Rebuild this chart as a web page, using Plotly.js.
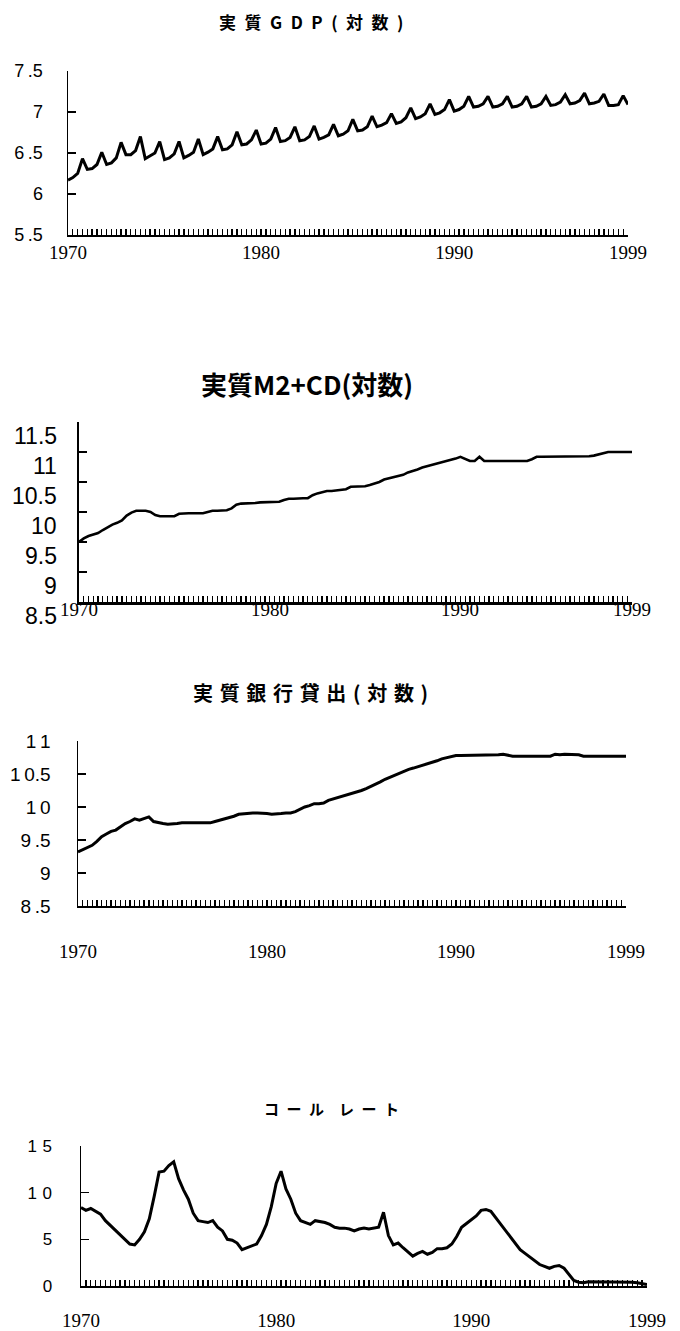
<!DOCTYPE html>
<html>
<head>
<meta charset="utf-8">
<script src="https://cdn.plot.ly/plotly-3.0.1.min.js"></script>
<style>
  html, body { margin: 0; padding: 0; background: #ffffff; }
  #chart { width: 680px; height: 1331px; }
</style>
</head>
<body>
<div id="chart"></div>
<script>
// Quarterly observations, 1970 Q1 through 1999 Q1
const years = [1970,1971,1972,1973,1974,1975,1976,1977,1978,1979,1980,1981,1982,1983,1984,
               1985,1986,1987,1988,1989,1990,1991,1992,1993,1994,1995,1996,1997,1998,1999];
const quarterOffsets = [0, 0.25, 0.5, 0.75];

// 実質GDP(対数)
const gdp = [
  6.17, 6.20, 6.25, 6.43,
  6.30, 6.31, 6.36, 6.51,
  6.36, 6.38, 6.44, 6.63,
  6.48, 6.48, 6.53, 6.70,
  6.43, 6.46, 6.50, 6.64,
  6.42, 6.44, 6.49, 6.64,
  6.44, 6.47, 6.51, 6.67,
  6.48, 6.51, 6.55, 6.70,
  6.54, 6.55, 6.60, 6.76,
  6.60, 6.61, 6.66, 6.78,
  6.61, 6.62, 6.67, 6.81,
  6.64, 6.65, 6.69, 6.82,
  6.65, 6.66, 6.70, 6.83,
  6.67, 6.69, 6.72, 6.85,
  6.71, 6.73, 6.77, 6.91,
  6.77, 6.78, 6.82, 6.95,
  6.82, 6.84, 6.87, 6.98,
  6.86, 6.88, 6.93, 7.05,
  6.92, 6.94, 6.98, 7.10,
  6.97, 6.99, 7.03, 7.15,
  7.01, 7.03, 7.07, 7.19,
  7.06, 7.07, 7.10, 7.19,
  7.06, 7.07, 7.10, 7.19,
  7.06, 7.07, 7.10, 7.19,
  7.06, 7.07, 7.10, 7.19,
  7.08, 7.09, 7.12, 7.21,
  7.10, 7.11, 7.14, 7.23,
  7.10, 7.11, 7.13, 7.22,
  7.08, 7.08, 7.09, 7.20,
  7.09
];

// 実質M2+CD(対数)
const m2cd = [
  9.50, 9.56, 9.60, 9.63,
  9.65, 9.70, 9.75, 9.79,
  9.82, 9.86, 9.94, 9.99,
  10.02, 10.02, 10.02, 10.00,
  9.95, 9.93, 9.93, 9.93,
  9.93, 9.97, 9.98, 9.98,
  9.98, 9.98, 9.98, 10.00,
  10.02, 10.02, 10.03, 10.03,
  10.06, 10.12, 10.14, 10.14,
  10.15, 10.15, 10.16, 10.16,
  10.16, 10.17, 10.17, 10.20,
  10.22, 10.22, 10.23, 10.23,
  10.23, 10.28, 10.31, 10.33,
  10.35, 10.35, 10.36, 10.36,
  10.38, 10.42, 10.42, 10.43,
  10.43, 10.45, 10.47, 10.50,
  10.54, 10.56, 10.58, 10.61,
  10.62, 10.66, 10.68, 10.71,
  10.74, 10.76, 10.79, 10.81,
  10.83, 10.85, 10.87, 10.89,
  10.92, 10.88, 10.85, 10.85,
  10.92, 10.85, 10.85, 10.85,
  10.85, 10.85, 10.85, 10.85,
  10.85, 10.85, 10.85, 10.88,
  10.92, 10.92, 10.92, 10.92,
  10.92, 10.92, 10.93, 10.93,
  10.93, 10.93, 10.93, 10.93,
  10.94, 10.96, 10.98, 11.00,
  11.00, 11.00, 11.00, 11.00,
  11.00
];

// 実質銀行貸出(対数)
const loans = [
  9.32, 9.35, 9.38, 9.42,
  9.48, 9.55, 9.59, 9.63,
  9.65, 9.70, 9.75, 9.78,
  9.82, 9.80, 9.83, 9.85,
  9.78, 9.76, 9.75, 9.74,
  9.74, 9.75, 9.76, 9.76,
  9.76, 9.76, 9.76, 9.76,
  9.76, 9.78, 9.80, 9.82,
  9.83, 9.86, 9.89, 9.90,
  9.91, 9.91, 9.91, 9.91,
  9.90, 9.89, 9.89, 9.90,
  9.91, 9.91, 9.93, 9.97,
  10.00, 10.02, 10.05, 10.05,
  10.06, 10.10, 10.12, 10.14,
  10.16, 10.18, 10.20, 10.22,
  10.25, 10.28, 10.31, 10.35,
  10.38, 10.42, 10.45, 10.49,
  10.51, 10.54, 10.57, 10.59,
  10.61, 10.63, 10.65, 10.67,
  10.70, 10.73, 10.75, 10.77,
  10.78, 10.78, 10.78, 10.78,
  10.78, 10.78, 10.78, 10.78,
  10.78, 10.79, 10.80, 10.78,
  10.77, 10.77, 10.77, 10.77,
  10.77, 10.77, 10.77, 10.77,
  10.77, 10.80, 10.79, 10.80,
  10.80, 10.80, 10.79, 10.77,
  10.77, 10.77, 10.77, 10.77,
  10.77, 10.77, 10.77, 10.77,
  10.77
];

// コールレート(%)
const callRate = [
  8.4, 8.1, 8.3, 8.0,
  7.7, 7.0, 6.5, 6.0,
  5.6, 5.1, 4.5, 4.4,
  5.0, 5.8, 7.2, 9.6,
  12.2, 12.3, 12.9, 13.3,
  11.5, 10.3, 9.3, 7.8,
  7.0, 6.9, 6.8, 7.0,
  6.3, 5.9, 5.0, 4.9,
  4.6, 3.9, 4.1, 4.3,
  4.5, 5.4, 6.6, 8.5,
  11.0, 12.3, 10.4, 9.3,
  7.8, 7.0, 6.8, 6.6,
  7.0, 6.9, 6.8, 6.6,
  6.3, 6.2, 6.2, 6.1,
  5.9, 6.1, 6.2, 6.1,
  6.2, 6.3, 7.9, 5.4,
  4.4, 4.6, 4.1, 3.7,
  3.2, 3.5, 3.7, 3.4,
  3.6, 4.0, 4.0, 4.1,
  4.5, 5.3, 6.3, 6.7,
  7.1, 7.5, 8.1, 8.2,
  8.0, 7.3, 6.7, 6.0,
  5.2, 4.6, 3.9, 3.5,
  3.1, 2.7, 2.3, 2.1,
  1.9, 2.1, 2.2, 1.9,
  1.3, 0.6, 0.4, 0.35,
  0.45, 0.45, 0.4, 0.45,
  0.45, 0.4, 0.45, 0.4,
  0.4, 0.4, 0.35, 0.25,
  0.15
];

// Axis labels
const yearTicks = [1970, 1980, 1990, 1999];
const yearTickText = ['1970', '1980', '1990', '1999'];
const gdpTickVals = [5.5, 6, 6.5, 7, 7.5];
const gdpTickText = ['5\u2009.5', '6', '6\u2009.5', '7', '7\u2009.5'];
const m2TickVals = [8.5, 9, 9.5, 10, 10.5, 11, 11.5];
const m2TickText = ['8.5', '9', '9.5', '10', '10.5', '11', '11.5'];
const loanTickVals = [8.5, 9, 9.5, 10, 10.5, 11];
const loanTickText = ['8\u2009.5', '9', '9\u2009.5', '1\u20090', '1\u20090.5', '1\u20091'];
const rateTickVals = [0, 5, 10, 15];
const rateTickText = ['0', '5', '1\u20040', '1\u20045'];

const EN = '\u2002', THIRD = '\u2004';
const titles = [
  ['実', '質', 'G', 'D', 'P', '(', '対', '数', ')'].join(EN),
  '実質M2+CD(対数)',
  ['実', '質', '銀', '行', '貸', '出', '(', '対', '数', ')'].join(THIRD),
  'コ' + EN + 'ー' + EN + 'ル' + EN + EN + 'レ' + EN + 'ー' + EN + 'ト'
];

// time index for each observation
const periods = [];
years.forEach(y => quarterOffsets.forEach(q => periods.push(y + q)));
const n = gdp.length;
const t = periods.slice(0, n);

const W = 680, H = 1331;
const fx = p => p / W;
const fy = p => 1 - p / H;

const SERIF = 'Liberation Serif, Times New Roman, serif';
const SANS = 'Liberation Sans, Arial, sans-serif';
const NARROW = 'Liberation Sans Narrow, Liberation Sans, Arial, sans-serif';
const CJK = 'Noto Sans CJK JP, sans-serif';

function xAxis(left, right, anchor, standoff, lineW, fontSize, showLabels) {
  return {
    domain: [fx(left), fx(right)], anchor: anchor,
    range: [1970, 1999],
    tickmode: 'array', tickvals: yearTicks, ticktext: yearTickText,
    showticklabels: showLabels,
    ticks: 'inside', ticklen: 6, tickwidth: 1.3, tickcolor: '#000',
    minor: { dtick: 0.25, tick0: 1970, ticks: 'inside', ticklen: 6, tickwidth: 1.3, tickcolor: '#000', showgrid: false },
    showline: true, linecolor: '#000', linewidth: lineW,
    showgrid: false, zeroline: false,
    ticklabelstandoff: standoff,
    tickfont: { family: SERIF, size: fontSize, color: '#000' },
    fixedrange: true
  };
}

function yAxis(top, bottom, anchor, range, vals, text, standoff, lineW, font, showLabels) {
  return {
    domain: [fy(bottom), fy(top)], anchor: anchor,
    range: range,
    tickmode: 'array', tickvals: vals, ticktext: text,
    showticklabels: showLabels,
    ticks: 'inside', ticklen: 8, tickwidth: 1.5, tickcolor: '#000',
    showline: true, linecolor: '#000', linewidth: lineW,
    showgrid: false, zeroline: false,
    ticklabelstandoff: standoff,
    tickfont: font,
    fixedrange: true
  };
}

const lineStyle = w => ({ color: '#000', width: w });

const traces = [
  { x: t, y: gdp, xaxis: 'x', yaxis: 'y', mode: 'lines', line: lineStyle(3), hoverinfo: 'skip' },
  { x: t, y: m2cd, xaxis: 'x2', yaxis: 'y2', mode: 'lines', line: lineStyle(2.6), hoverinfo: 'skip' },
  { x: t, y: loans, xaxis: 'x3', yaxis: 'y3', mode: 'lines', line: lineStyle(3), hoverinfo: 'skip' },
  { x: t, y: callRate, xaxis: 'x4', yaxis: 'y4', mode: 'lines', line: lineStyle(3), hoverinfo: 'skip' }
];

const annotations = [];
const titlePos = [[311, 22, 17], [307, 383, 26], [310, 692, 20], [331, 1108, 15]];
titles.forEach((txt, i) => {
  annotations.push({
    text: '<b>' + txt + '</b>', xref: 'paper', yref: 'paper',
    x: fx(titlePos[i][0]), y: fy(titlePos[i][1]),
    xanchor: 'center', yanchor: 'middle', showarrow: false,
    font: { family: CJK, size: titlePos[i][2], color: '#000' }
  });
});

// M2+CD value labels sit half a step below their tick marks
m2TickVals.forEach((v, i) => {
  annotations.push({
    text: m2TickText[i], xref: 'paper', yref: 'y2',
    x: fx(59), y: v, yshift: -14,
    xanchor: 'right', yanchor: 'middle', showarrow: false,
    font: { family: NARROW, size: 23, color: '#000' }
  });
});

// M2+CD year labels hug the baseline
yearTicks.forEach((v, i) => {
  annotations.push({
    text: yearTickText[i], xref: 'x2', yref: 'paper',
    x: v, y: fy(610),
    xanchor: 'center', yanchor: 'middle', showarrow: false,
    font: { family: SERIF, size: 19, color: '#000' }
  });
});

const layout = {
  width: W, height: H,
  margin: { l: 0, r: 0, t: 0, b: 0 },
  paper_bgcolor: '#ffffff', plot_bgcolor: '#ffffff',
  showlegend: false,
  xaxis: xAxis(68, 628, 'y', 0, 1.5, 19, true),
  yaxis: yAxis(71, 235, 'x', [5.5, 7.5], gdpTickVals, gdpTickText, 20, 1.5,
               { family: SANS, size: 18, color: '#000' }, true),
  xaxis2: xAxis(79, 632, 'y2', 0, 3, 19, false),
  yaxis2: yAxis(422, 602, 'x2', [8.5, 11.5], m2TickVals, m2TickText, 20, 2.5,
               { family: NARROW, size: 23, color: '#000' }, false),
  xaxis3: xAxis(78, 626, 'y3', 28, 1.5, 19, true),
  yaxis3: yAxis(741, 906, 'x3', [8.5, 11], loanTickVals, loanTickText, 22, 1.5,
               { family: SANS, size: 19, color: '#000' }, true),
  xaxis4: xAxis(81, 647, 'y4', 16, 2, 19, true),
  yaxis4: yAxis(1146, 1286, 'x4', [0, 15], rateTickVals, rateTickText, 24, 1.5,
               { family: SANS, size: 17, color: '#000' }, true),
  annotations: annotations
};

Plotly.newPlot('chart', traces, layout, { staticPlot: true, displayModeBar: false });
</script>
</body>
</html>
